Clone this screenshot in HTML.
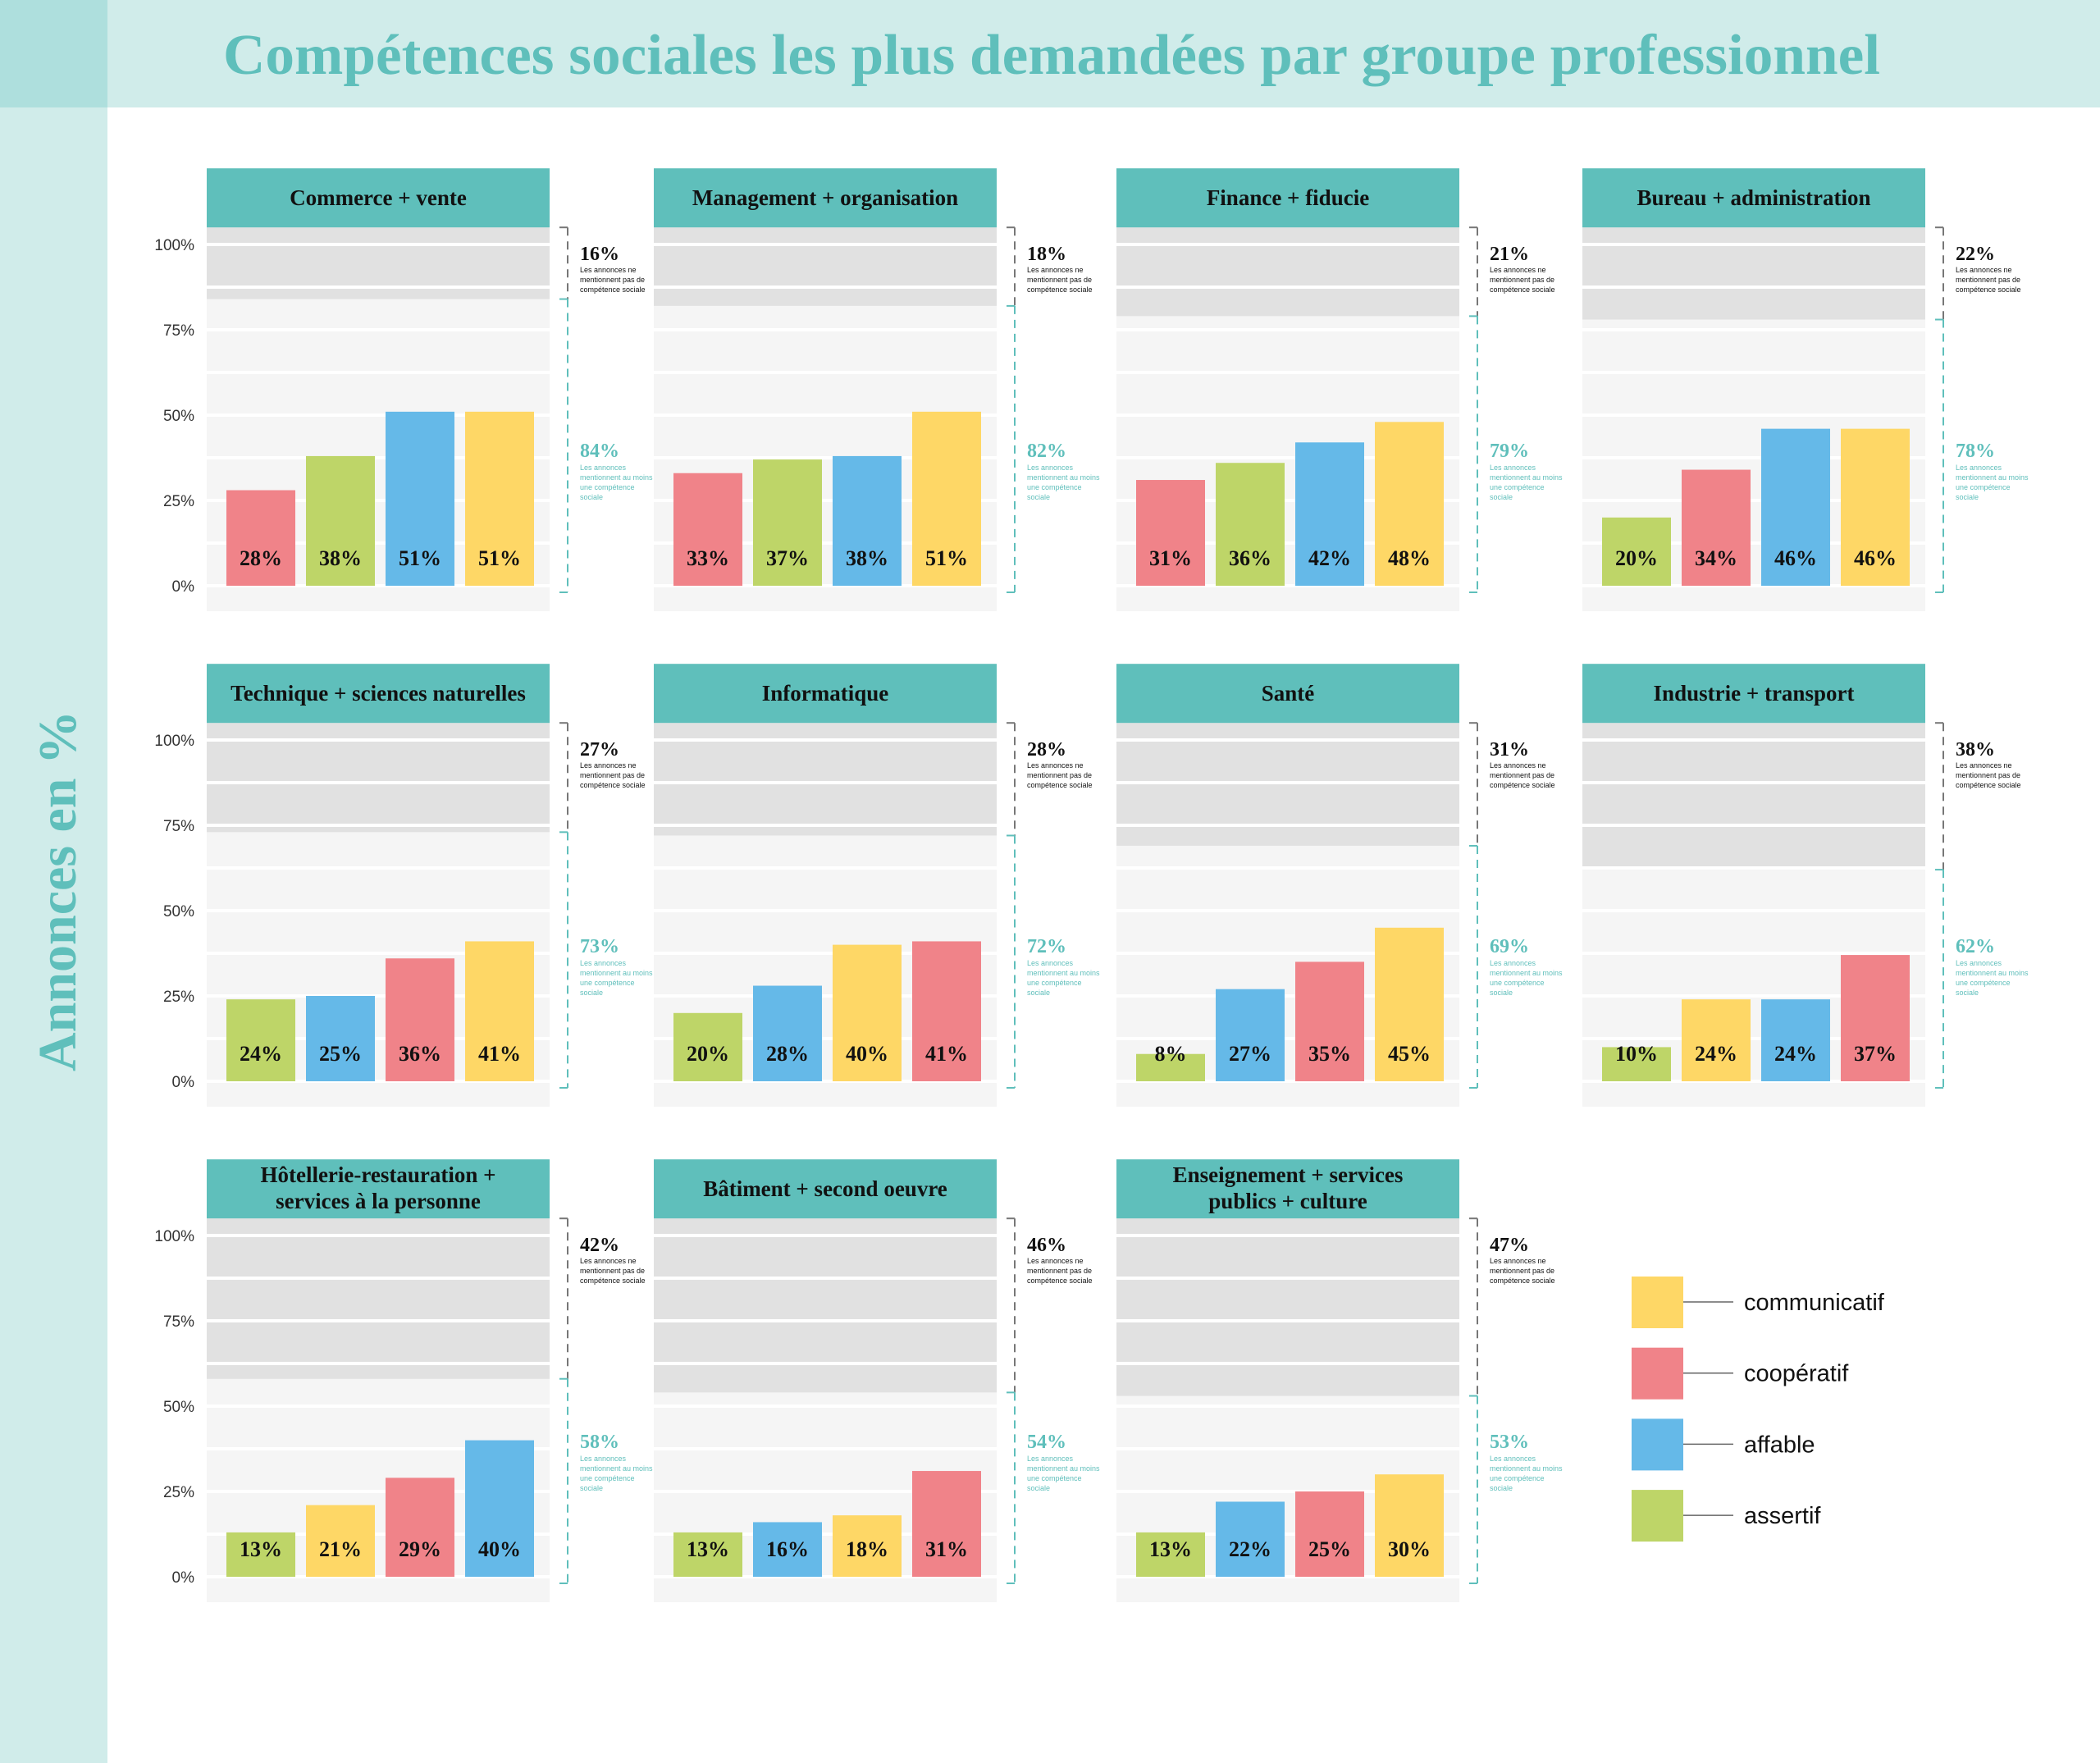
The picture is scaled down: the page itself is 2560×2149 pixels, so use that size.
<!DOCTYPE html>
<html><head><meta charset="utf-8">
<style>
html,body{margin:0;padding:0;background:#fff;}
body{width:2560px;height:2149px;overflow:hidden;position:relative;}
svg{position:absolute;left:0;top:0;}
</style></head>
<body>
<svg id="chart" width="2560" height="2149" viewBox="0 0 2560 2149" xmlns="http://www.w3.org/2000/svg">
  <rect x="0" y="0" width="2560" height="131" fill="#d0ecea"/>
  <rect x="0" y="0" width="131" height="2149" fill="#d0ecea"/>
  <rect x="0" y="0" width="131" height="131" fill="#aedfdd"/>
  <text x="272" y="90" font-family="Liberation Serif, serif" font-weight="bold" font-size="70" fill="#5fbfbb" textLength="2020" lengthAdjust="spacingAndGlyphs">Compétences sociales les plus demandées par groupe professionnel</text>
  <text transform="translate(92,1086) rotate(-90)" text-anchor="middle" font-family="Liberation Serif, serif" font-weight="bold" font-size="66" fill="#5fbfbb" textLength="440" lengthAdjust="spacingAndGlyphs">Annonces en %</text>
  <g id="panels"></g>
  <g id="legend"></g>
</svg>
<script>
// ---- data ----
const titles = [["Commerce + vente"],["Management + organisation"],["Finance + fiducie"],["Bureau + administration"],
 ["Technique + sciences naturelles"],["Informatique"],["Santé"],["Industrie + transport"],
 ["Hôtellerie-restauration +","services à la personne"],["Bâtiment + second oeuvre"],["Enseignement + services","publics + culture"]];
const withoutSkill = [16,18,21,22,27,28,31,38,42,46,47];
const withSkill = [84,82,79,78,73,72,69,62,58,54,53];
const barValues = [[28,38,51,51],[33,37,38,51],[31,36,42,48],[20,34,46,46],
 [24,25,36,41],[20,28,40,41],[8,27,35,45],[10,24,24,37],
 [13,21,29,40],[13,16,18,31],[13,22,25,30]];
const barCats = [["coop","assert","aff","comm"],["coop","assert","aff","comm"],["coop","assert","aff","comm"],["assert","coop","aff","comm"],
 ["assert","aff","coop","comm"],["assert","aff","comm","coop"],["assert","aff","coop","comm"],["assert","comm","aff","coop"],
 ["assert","comm","coop","aff"],["assert","aff","comm","coop"],["assert","aff","coop","comm"]];
const yTicks = [0,25,50,75,100];
const legendKeys = ["comm","coop","aff","assert"];
const legendLabels = ["communicatif","coopératif","affable","assertif"];

// ---- styles ----
const colors = {comm:"#fed766",coop:"#f08389",aff:"#65b9e8",assert:"#bed568"};
const NS = "http://www.w3.org/2000/svg";
const colX = [252,797,1361,1929];
const rowZero = [714,1318,1922];
const PW = 418, SCALE = 4.16;
function yScale(v,row){ return rowZero[row] - v*SCALE; }
function mk(tag, attrs, parent){ const e=document.createElementNS(NS,tag); for(const k in attrs) e.setAttribute(k,attrs[k]); parent.appendChild(e); return e; }

const panels = document.getElementById('panels');
titles.forEach((t,i)=>{
  const row = Math.floor(i/4), col = i%4;
  const x0 = colX[col], z = rowZero[row];
  const g = mk('g',{},panels);
  
  
  const top = yScale(105,row), bottom = z + 31;
  const bgL = mk('rect',{x:x0,y:top,width:PW,height:bottom-top,fill:"#f5f5f5"},g);
  
  
  const bgD = mk('rect',{x:x0,y:top,width:PW,height:yScale(withSkill[i],row)-top,fill:"#e1e1e1"},g);
  
  
  for(let k=0;k<=8;k++){
    const gl = mk('rect',{x:x0,y:yScale(k*12.5,row)-2,width:PW,height:4,fill:"#fff"},g);
    
    
  }
  const hd = mk('rect',{x:x0,y:top-72,width:PW,height:72,fill:"#5fbfbb"},g);
  
  
  t.forEach((line,li)=>{
    const yy = t.length===1 ? top-27 : top-44+li*32;
    const tx = mk('text',{x:x0+PW/2,y:yy,'text-anchor':'middle','font-family':'Liberation Serif, serif','font-weight':'bold','font-size':27,fill:'#111'},g);
    tx.textContent=line;
    
    
  });
  if(col===0){
    yTicks.forEach(v=>{
      const tt = mk('text',{x:237,y:yScale(v,row)+7,'text-anchor':'end','font-family':'Liberation Sans, sans-serif','font-size':19,fill:'#333'},panels);
      tt.textContent=v+'%';
      
      
    });
  }
  barValues[i].forEach((v,b)=>{
    const bx = x0+24+b*97;
    const r = mk('rect',{x:bx,y:yScale(v,row),width:84,height:z-yScale(v,row),fill:colors[barCats[i][b]]},g);
    
    
    const lb = mk('text',{x:bx+42,y:z-25,'text-anchor':'middle','font-family':'Liberation Serif, serif','font-weight':'bold','font-size':26,fill:'#111'},g);
    lb.textContent=v+'%';
    
    
  });
  const bx = x0+PW+22, yb = yScale(withSkill[i],row);
  const l1 = mk('line',{x1:bx,y1:top,x2:bx,y2:yb,stroke:'#777','stroke-width':2,'stroke-dasharray':'10,7'},g);
  
  
  const l2 = mk('line',{x1:bx,y1:yb,x2:bx,y2:z+8,stroke:'#5fbfbb','stroke-width':2,'stroke-dasharray':'10,7'},g);
  
  
  [[top,'#777'],[yb,'#5fbfbb'],[z+8,'#5fbfbb']].forEach(([yy,c])=>{
    const tk = mk('line',{x1:bx-10,y1:yy,x2:bx,y2:yy,stroke:c,'stroke-width':2},g);
    
    
  });
  const tx0 = bx+15;
  const p1 = mk('text',{x:tx0,y:top+40,'font-family':'Liberation Serif, serif','font-weight':'bold','font-size':24,fill:'#111'},g);
  p1.textContent = withoutSkill[i]+'%';
  
  
  ["Les annonces ne","mentionnent pas de","compétence sociale"].forEach((s,k)=>{
    const st = mk('text',{x:tx0,y:top+55+k*12,'font-family':'Liberation Sans, sans-serif','font-size':9,fill:'#111'},g);
    st.textContent=s;
    
    
  });
  const p2 = mk('text',{x:tx0,y:top+280,'font-family':'Liberation Serif, serif','font-weight':'bold','font-size':24,fill:'#5fbfbb'},g);
  p2.textContent = withSkill[i]+'%';
  
  
  ["Les annonces","mentionnent au moins","une compétence","sociale"].forEach((s,k)=>{
    const st = mk('text',{x:tx0,y:top+296+k*12,'font-family':'Liberation Sans, sans-serif','font-size':9,fill:'#5fbfbb'},g);
    st.textContent=s;
    
    
  });
});

const lg = document.getElementById('legend');


legendKeys.forEach((k,i)=>{
  const y = 1556 + i*86.7;
  const sq = mk('rect',{x:1989,y:y,width:63,height:63,fill:colors[k]},lg);
  
  
  const ln = mk('line',{x1:2052,y1:y+31,x2:2113,y2:y+31,stroke:'#666','stroke-width':1.5},lg);
  
  
  const tx = mk('text',{x:2126,y:y+41,'font-family':'Liberation Sans, sans-serif','font-size':29,fill:'#111'},lg);
  tx.textContent = legendLabels[i];
  
  
});
</script>
</body></html>
